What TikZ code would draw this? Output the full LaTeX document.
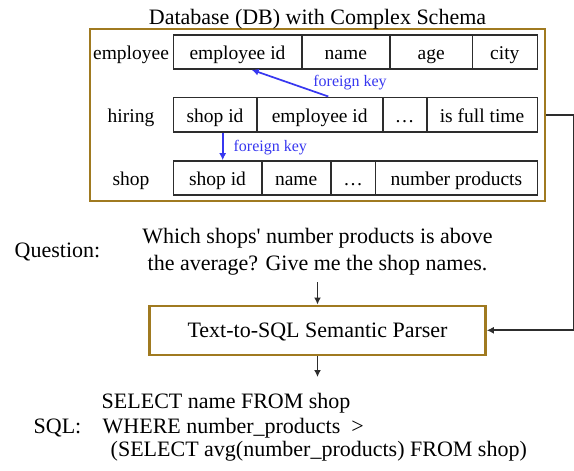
\documentclass[tikz,border=0pt]{standalone}
\usepackage{fontspec}
\setmainfont{Liberation Serif}
\usetikzlibrary{arrows.meta}
\definecolor{gold}{RGB}{160,122,32}
\definecolor{fkblue}{RGB}{55,55,240}
\definecolor{linegray}{RGB}{45,45,45}
\begin{document}
\begin{tikzpicture}[x=1pt,y=-1pt,
  tfont/.style={font=\fontsize{19.5}{22}\selectfont},
  bfont/.style={font=\fontsize{22}{26.7}\selectfont},
  cell/.style={tfont, draw=linegray, line width=1.6pt, inner sep=0pt, text height=15pt, text depth=0pt},
  rowlabel/.style={tfont, inner sep=0pt, text height=15pt, text depth=0pt},
  goldbox/.style={draw=gold, line width=2.6pt, inner sep=0pt},
  conn/.style={draw=linegray, line width=1.7pt, -{Latex[length=7pt,width=7pt]}},
  fk/.style={draw=fkblue, line width=1.7pt, -{Latex[length=7pt,width=7pt]}},
  fklabel/.style={font=\fontsize{16}{19}\selectfont, text=fkblue, inner sep=0pt, anchor=base}
]
\useasboundingbox[fill=white] (0,0) rectangle (574,471);

% database box and title
\node[goldbox, minimum width=455pt, minimum height=172pt] (db) at (317.5,115) {};
\node[bfont, anchor=base, inner sep=0pt] (title) at (317.5,24) {Database (DB) with Complex Schema};

% employee
\node[rowlabel] (lemp) at (131,52) {employee};
\node[cell, minimum width=128.4pt, minimum height=34pt] (e1) at (237.5,52) {employee id};
\node[cell, minimum width=88.3pt, minimum height=34pt] (e2) at (345.85,52) {name};
\node[cell, minimum width=82.3pt, minimum height=34pt] (e3) at (431.15,52) {age};
\node[cell, minimum width=65pt, minimum height=34pt] (e4) at (504.8,52) {city};

% hiring
\node[rowlabel] (lhir) at (131,114.5) {hiring};
\node[cell, minimum width=83.4pt, minimum height=34.4pt] (h1) at (215,114.5) {shop id};
\node[cell, minimum width=126pt, minimum height=34.4pt] (h2) at (319.7,114.5) {employee id};
\node[cell, minimum width=44pt, minimum height=34.4pt] (h3) at (404.7,114.5) {\ldots};
\node[cell, minimum width=110.6pt, minimum height=34.4pt] (h4) at (482,114.5) {is full time};

% shop
\node[rowlabel] (lshop) at (131,178) {shop};
\node[cell, minimum width=88.4pt, minimum height=34pt] (s1) at (217.5,178) {shop id};
\node[cell, minimum width=69pt, minimum height=34pt] (s2) at (296.2,178) {name};
\node[cell, minimum width=44.8pt, minimum height=34pt] (s3) at (353.1,178) {\ldots};
\node[cell, minimum width=161.8pt, minimum height=34pt] (s4) at (456.4,178) {number products};

% foreign keys
\draw[fk] ([xshift=8.6pt]h2.north) -- ([xshift=14.2pt]e1.south);
\node[fklabel] (fk1) at (350,86) {foreign key};
\draw[fk] ([xshift=7.7pt]h1.south) -- ([xshift=5.2pt]s1.north);
\node[fklabel] (fk2) at (270.3,151.7) {foreign key};

% question
\node[bfont, anchor=base, inner sep=0pt] (qlab) at (57.5,257.5) {Question:};
\node[bfont, align=center, inner sep=0pt] (q) at (317.5,251.5) {Which shops\textquotesingle{} number products is above\\the average? Give me the shop names.};

% parser
\node[goldbox, bfont, minimum width=336pt, minimum height=49pt, text height=15pt, text depth=0pt] (parser) at (317.5,330.3) {Text-to-SQL Semantic Parser};

% sql
\node[bfont, anchor=base, inner sep=0pt] (sqllab) at (57.5,433.3) {SQL:};
\node[bfont, anchor=base west, inner sep=0pt] (sql1) at (101.5,408.3) {SELECT name FROM shop};
\node[bfont, anchor=base west, inner sep=0pt] (sql2) at (102.5,433.3) {WHERE number\_products\ \ \textgreater};
\node[bfont, anchor=base west, inner sep=0pt] (sql3) at (110.5,456.7) {(SELECT avg(number\_products) FROM shop)};
\coordinate (sqlin) at (317.5,377);

% connectors
\draw[conn, shorten <=7pt] (q.south) -- (parser.north);
\draw[conn] (parser.south) -- (sqlin);
\draw[conn] (db.east) -- ++(27.5,0) |- (parser.east);
\end{tikzpicture}
\end{document}
